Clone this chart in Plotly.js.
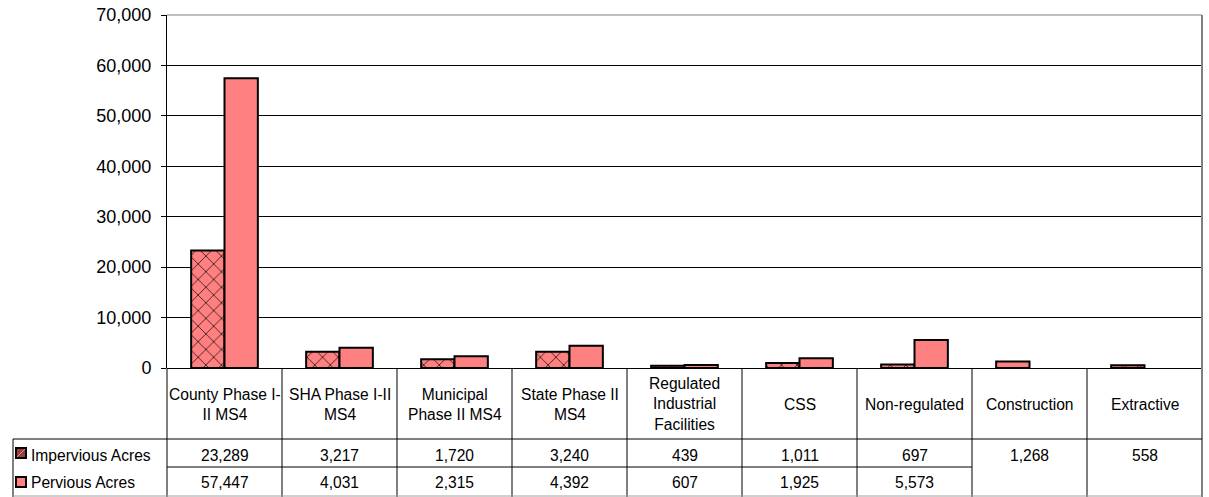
<!DOCTYPE html>
<html><head><meta charset="utf-8">
<script src="https://cdn.plot.ly/plotly-3.0.1.min.js"></script>
<style>html,body{margin:0;padding:0;background:#fff}#chart{width:1209px;height:497px}</style>
</head><body><div id="chart"></div>
<script>
const categories = ['County Phase I-II MS4','SHA Phase I-II MS4','Municipal Phase II MS4','State Phase II MS4','Regulated Industrial Facilities','CSS','Non-regulated','Construction','Extractive'];
const tickLabels = ['County Phase I-<br>II MS4','SHA Phase I-II<br>MS4','Municipal<br>Phase II MS4','State Phase II<br>MS4','Regulated<br>Industrial<br>Facilities','CSS','Non-regulated','Construction','Extractive'];
const impervious = [23289, 3217, 1720, 3240, 439, 1011, 697, 1268, 558];
const pervious = [57447, 4031, 2315, 4392, 607, 1925, 5573, null, null];
const imperviousPattern = ['x','x','x','x','x','x','x','','x'];
const seriesNames = ['Impervious Acres','Pervious Acres'];
const yTickVals = [0,10000,20000,30000,40000,50000,60000,70000];

const W = 1209, H = 497, L = 167, R = 7, T = 15, B = 129;
const PW = W - L - R, PH = H - T - B;
const xp = px => (px - L) / PW;
const yp = py => (H - B - py) / PH;
const n = categories.length;
const PINK = '#FF8080';
const FONT = 'Liberation Sans, Arial, sans-serif';
const fmt = v => v.toLocaleString('en-US');

const traces = [
  {type:'bar', name:seriesNames[0], x:categories, y:impervious,
   marker:{color:PINK, line:{color:'#000', width:2},
     pattern:{shape:imperviousPattern, bgcolor:PINK, fgcolor:'#000', size:11, solidity:0.12}},
   hoverinfo:'y'},
  {type:'bar', name:seriesNames[1], x:categories, y:pervious,
   marker:{color:PINK, line:{color:'#000', width:2}}, hoverinfo:'y'}
];

const shapes = [];
const line = (x0,y0,x1,y1,color,width) => shapes.push({type:'line', xref:'paper', yref:'paper', x0, y0, x1, y1, line:{color:color||'#000', width:width||1}});
// column boundaries in table
for (let k = 1; k < n; k++) line(k/n, 0, k/n, yp(497));
// left axis extension down through table
line(0, 0, 0, yp(497));
// right gray border
line(1, 1, 1, yp(497), '#808080', 2);
// top gray border
line(0, 1, 1, 1, '#808080', 1);
// table header bottom line
line(xp(13), yp(439), 1, yp(439));
// row divider (only columns with two values)
const twoRowCols = pervious.filter(v => v !== null).length;
line(0, yp(467), twoRowCols/n, yp(467));
// left box
line(xp(13), yp(439), xp(13), yp(497));
// bottom gray
line(xp(13), yp(496), 1, yp(496), '#a0a0a0', 1);
// legend keys
shapes.push({type:'rect', xref:'paper', yref:'paper', x0:xp(16), x1:xp(26), y0:yp(458), y1:yp(448), fillcolor:'#9a3f3f', line:{color:'#000', width:2}});
shapes.push({type:'line', xref:'paper', yref:'paper', x0:xp(17), x1:xp(25), y0:yp(457), y1:yp(449), line:{color:PINK, width:1}});
shapes.push({type:'rect', xref:'paper', yref:'paper', x0:xp(16), x1:xp(26), y0:yp(487), y1:yp(477), fillcolor:PINK, line:{color:'#000', width:2}});

const annotations = [];
const tf = {family:FONT, size:15.6, color:'#000'};
for (let i = 0; i < n; i++) {
  const cx = (i + 0.5) / n;
  annotations.push({xref:'paper', yref:'paper', x:cx, y:yp(404), text:tickLabels[i], showarrow:false, xanchor:'center', yanchor:'middle', font:tf, align:'center'});
  if (impervious[i] !== null) annotations.push({xref:'paper', yref:'paper', x:cx, y:yp(455), text:fmt(impervious[i]), showarrow:false, xanchor:'center', yanchor:'middle', font:tf});
  if (pervious[i] !== null) annotations.push({xref:'paper', yref:'paper', x:cx, y:yp(483), text:fmt(pervious[i]), showarrow:false, xanchor:'center', yanchor:'middle', font:tf});
}
annotations.push({xref:'paper', yref:'paper', x:xp(29), y:yp(455), text:seriesNames[0], showarrow:false, xanchor:'left', yanchor:'middle', font:tf});
annotations.push({xref:'paper', yref:'paper', x:xp(29), y:yp(483), text:seriesNames[1], showarrow:false, xanchor:'left', yanchor:'middle', font:tf});

const layout = {
  width:W, height:H, margin:{l:L, r:R, t:T, b:B, pad:0},
  paper_bgcolor:'#fff', plot_bgcolor:'#fff',
  barmode:'group', bargap:0.42, bargroupgap:0, showlegend:false,
  font:{family:FONT, color:'#000'},
  xaxis:{type:'category', range:[-0.5, n-0.5], showticklabels:false, ticks:'', showline:false, showgrid:false, zeroline:false, fixedrange:true},
  yaxis:{range:[0,70000], tickvals:yTickVals, tickformat:',d', ticks:'outside', ticklen:5, tickcolor:'#000', tickwidth:1,
    showline:true, linecolor:'#000', linewidth:1, showgrid:true, gridcolor:'#000', gridwidth:1,
    zeroline:true, zerolinecolor:'#000', zerolinewidth:1, tickfont:{family:FONT, size:18, color:'#000'}, ticklabelstandoff:6, fixedrange:true},
  shapes, annotations
};
Plotly.newPlot('chart', traces, layout, {displayModeBar:false, staticPlot:true});
</script></body></html>
